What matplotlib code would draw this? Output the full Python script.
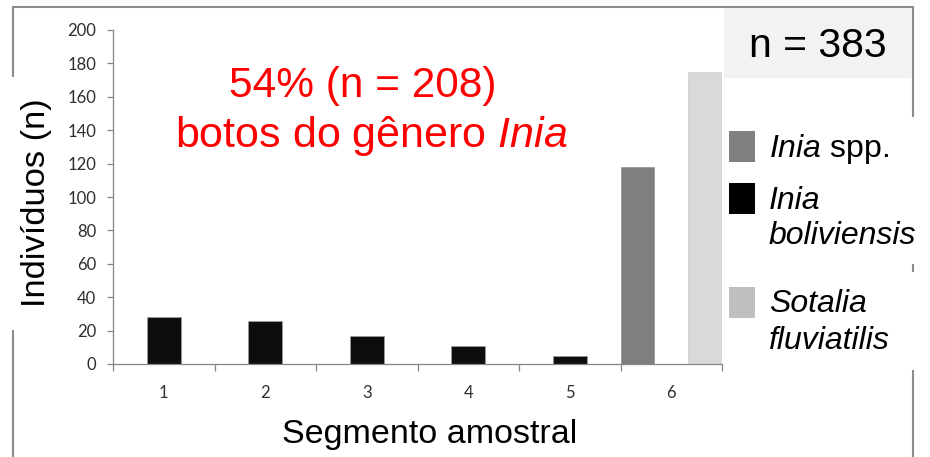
import numpy as np
import matplotlib
matplotlib.use("Agg")
import matplotlib.pyplot as plt
from matplotlib.patches import Rectangle

# ---- data ----
segments = ["1", "2", "3", "4", "5", "6"]
inia_spp = [0, 0, 0, 0, 0, 118]
inia_boliviensis = [28, 26, 17, 11, 5, 0]
sotalia_fluviatilis = [0, 0, 0, 0, 0, 175]
yticks = [0, 20, 40, 60, 80, 100, 120, 140, 160, 180, 200]
total_n = 383
inia_n = 208
inia_pct = 54

plt.rcParams['mathtext.fontset'] = 'custom'
plt.rcParams['mathtext.it'] = 'Liberation Sans:italic'
plt.rcParams['mathtext.rm'] = 'Liberation Sans'

W, H = 930, 457
fig = plt.figure(figsize=(W / 100, H / 100), dpi=100)


def fx(x):
    return x / W


def fy(y):
    return 1 - y / H


# outer frame (partially hidden by text boxes)
frame_col = '#8c8c8c'
fig.add_artist(Rectangle((fx(13), fy(470)), fx(913) - fx(13), fy(7) - fy(470),
                         transform=fig.transFigure, fill=False,
                         edgecolor=frame_col, linewidth=1.5, zorder=0))
# white boxes covering frame
fig.add_artist(Rectangle((fx(0), fy(330)), fx(50), fy(77) - fy(330),
                         transform=fig.transFigure, facecolor='white',
                         edgecolor='none', zorder=1))
fig.add_artist(Rectangle((fx(900), fy(264)), fx(30), fy(117) - fy(264),
                         transform=fig.transFigure, facecolor='white',
                         edgecolor='none', zorder=1))
fig.add_artist(Rectangle((fx(900), fy(370)), fx(30), fy(272) - fy(370),
                         transform=fig.transFigure, facecolor='white',
                         edgecolor='none', zorder=1))
# n box
fig.add_artist(Rectangle((fx(724), fy(78)), fx(912) - fx(724), fy(8) - fy(78),
                         transform=fig.transFigure, facecolor='#f2f2f2',
                         edgecolor='none', zorder=1))

ax = fig.add_axes([fx(113), fy(364), fx(722) - fx(113), fy(30) - fy(364)])
ax.set_zorder(2)
ax.patch.set_alpha(0)

x = np.arange(1, len(segments) + 1)
w = 1 / 3
edge = '#9a9a9a'
b1 = ax.bar(x - w, inia_spp, width=w, color='#7f7f7f', edgecolor=edge, linewidth=0.6)
b2 = ax.bar(x, inia_boliviensis, width=w, color='#0d0d0d', edgecolor=edge, linewidth=0.6)
b3 = ax.bar(x + w, sotalia_fluviatilis, width=w, color='#d9d9d9', edgecolor='#d0d0d0', linewidth=0.6)

ax.set_xlim(0.5, len(segments) + 0.5)
ax.set_ylim(0, 200)
ax.set_yticks(yticks)
ax.set_xticks(x)
ax.set_xticklabels(segments)
ax.set_xticks(np.arange(0.5, len(segments) + 1.0, 1), minor=True)

spine_col = '#868686'
for s in ['top', 'right']:
    ax.spines[s].set_visible(False)
for s in ['left', 'bottom']:
    ax.spines[s].set_color(spine_col)
    ax.spines[s].set_linewidth(0.9)

tick_col = '#2e2e2e'
ax.tick_params(axis='y', direction='out', length=4, width=0.9, color=spine_col,
               pad=8, labelsize=12, labelcolor=tick_col)
ax.tick_params(axis='x', which='major', length=0, pad=15, labelsize=12, labelcolor=tick_col)
ax.tick_params(axis='x', which='minor', direction='out', length=5, width=0.9, color=spine_col)
for lab in ax.get_xticklabels() + ax.get_yticklabels():
    lab.set_fontfamily('Lato')

# axis labels
fig.text(fx(36), fy(203), 'Indivíduos (n)', rotation=90, ha='center', va='center',
         fontsize=24.8, family='Liberation Sans', color='black', zorder=3)
fig.text(fx(430), fy(443), 'Segmento amostral', ha='center', va='baseline',
         fontsize=24.5, family='Liberation Sans', color='black', zorder=3)

# red annotation
fig.text(fx(363), fy(97), f'{inia_pct}% (n = {inia_n})', ha='center', va='baseline',
         fontsize=30.5, family='Liberation Sans', color='#ff0000', zorder=3)
fig.text(fx(371), fy(147), r'botos do gênero $\mathit{Inia}$', ha='center', va='baseline',
         fontsize=31, family='Liberation Sans', color='#ff0000', zorder=3)

# n box text
fig.text(fx(818), fy(57), f'n = {total_n}', ha='center', va='baseline',
         fontsize=29.5, family='Liberation Sans', color='black', zorder=3)

# legend (manual, to keep swatch aligned with first label line)
leg = [
    ('#808080', 131, [(r'$\mathit{Inia}$ spp.', 157, 'normal')]),
    ('#000000', 183, [('Inia', 209, 'italic'), ('boliviensis', 244, 'italic')]),
    ('#bfbfbf', 287, [('Sotalia', 312, 'italic'), ('fluviatilis', 349, 'italic')]),
]
for col, ytop, lines in leg:
    fig.add_artist(Rectangle((fx(729), fy(ytop + 31)), fx(26), fy(0) - fy(31),
                             transform=fig.transFigure, facecolor=col,
                             edgecolor='none', zorder=3))
    for txt, yb, style in lines:
        fig.text(fx(769), fy(yb), txt, ha='left', va='baseline', fontsize=23,
                 family='Liberation Sans', style=style, color='black', zorder=3)

fig.savefig('out.png', dpi=100)
